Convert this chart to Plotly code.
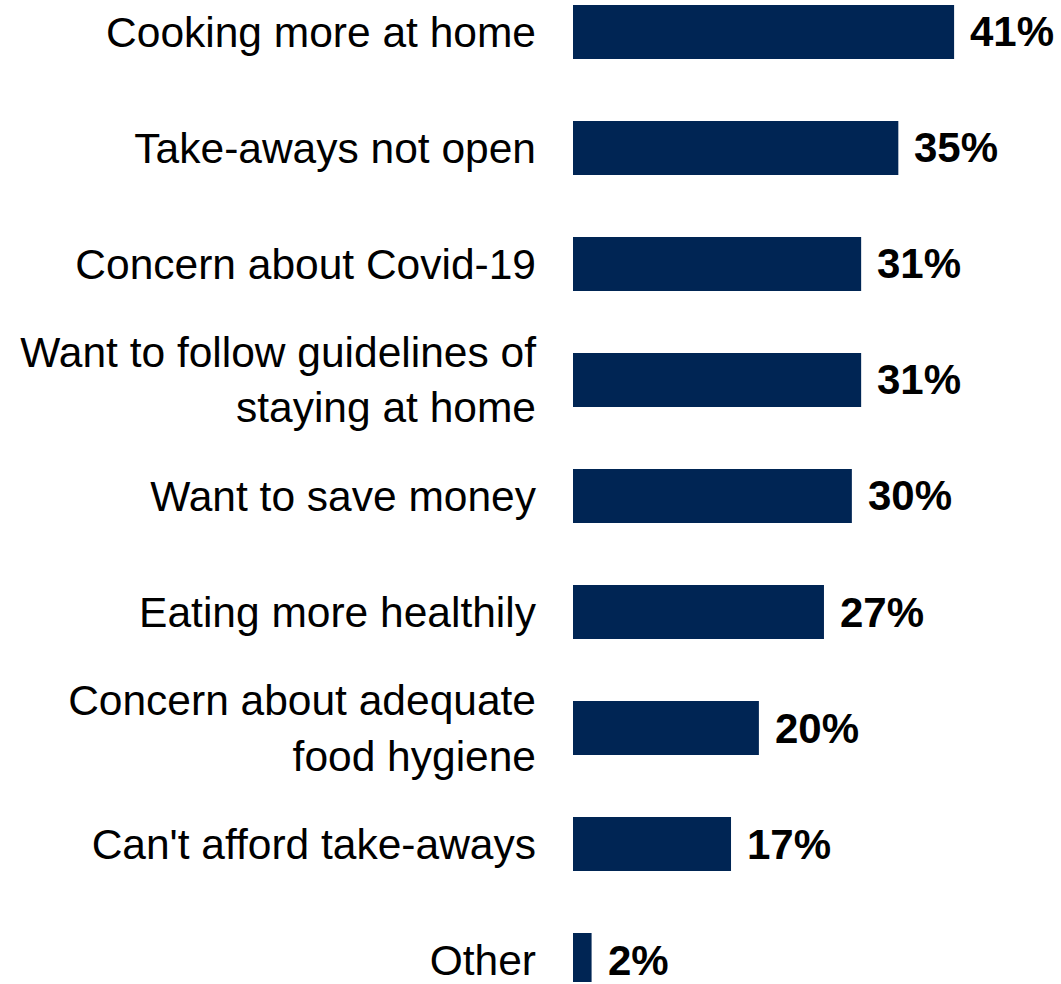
import plotly.graph_objects as go

# Reasons for ordering fewer take-aways, share of respondents (%)
categories = [
    "Cooking more at home",
    "Take-aways not open",
    "Concern about Covid-19",
    "Want to follow guidelines of<br>staying at home",
    "Want to save money",
    "Eating more healthily",
    "Concern about adequate<br>food hygiene",
    "Can't afford take-aways",
    "Other",
]
values = [41, 35, 31, 31, 30, 27, 20, 17, 2]

NAVY = "#002554"
FONT = "Liberation Sans, Arial, sans-serif"

fig = go.Figure(
    go.Bar(
        x=values,
        y=categories,
        orientation="h",
        marker=dict(color=NAVY, line=dict(width=0)),
        hoverinfo="skip",
    )
)

# Bold value labels just past the end of each bar
for cat, val in zip(categories, values):
    fig.add_annotation(
        x=val, y=cat, text=f"<b>{val}%</b>",
        xanchor="left", yanchor="middle", xshift=14, showarrow=False,
        font=dict(family=FONT, size=42, color="#000000"),
    )

fig.update_layout(
    width=1061, height=984,
    margin=dict(l=573, r=0, t=0, b=0),
    paper_bgcolor="white", plot_bgcolor="white",
    bargap=0.535,
    showlegend=False,
    font=dict(family=FONT, size=42.5, color="#000000"),
    xaxis=dict(range=[0, 52.5], visible=False, fixedrange=True),
    yaxis=dict(
        categoryorder="array", categoryarray=categories,
        range=[8.189, -0.275],
        showgrid=False, zeroline=False, showline=False,
        ticks="", ticklabelstandoff=36,
        tickfont=dict(family=FONT, size=42.5, color="#000000"),
        fixedrange=True,
    ),
)

fig.write_html("out.html")
